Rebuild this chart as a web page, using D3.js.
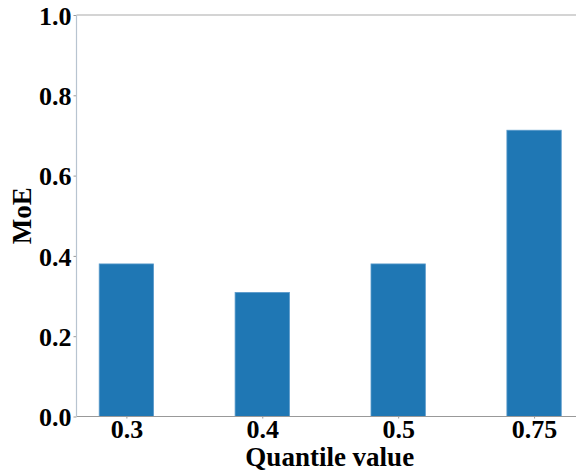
<!DOCTYPE html>
<html><head><meta charset="utf-8">
<script src="https://cdn.jsdelivr.net/npm/d3@7"></script>
<style>body{margin:0;background:#fff}svg{display:block}</style>
</head><body>
<script>
const categories = ["0.3", "0.4", "0.5", "0.75"];
const values = [0.38, 0.309, 0.38, 0.713];
const yTicks = [0, 0.2, 0.4, 0.6, 0.8, 1.0];

const W = 576, H = 472;
const L = 76.5, R = 583, T = 15, B = 416.5;
const svg = d3.select("body").append("svg").attr("width", W).attr("height", H);

const x = d3.scaleLinear().domain([-0.367, 3.36]).range([L, R]);
const y = d3.scaleLinear().domain([0, 1]).range([B, T]);
const bw = x(0.4) - x(0);

svg.selectAll("rect.bar").data(values).join("rect").attr("class","bar")
  .attr("x", (d,i) => x(i) - bw/2).attr("width", bw)
  .attr("y", d => y(d)).attr("height", d => y(0) - y(d))
  .attr("fill", "#1f77b4").attr("stroke", "#5a9acb").attr("stroke-width", 0.8);

const font = "'Liberation Serif','Times New Roman',serif";
const yAxis = d3.axisLeft(y).tickValues(yTicks).tickFormat(d3.format(".1f")).tickSize(3).tickPadding(2);
const gy = svg.append("g").attr("transform", `translate(${L},0)`).call(yAxis);
gy.select(".domain").remove();
gy.selectAll("line").attr("stroke", "#999");
gy.selectAll("text").attr("font-family", font).attr("font-weight", "bold").attr("font-size", 26).attr("fill", "#000").attr("dy", "0.35em");

const xAxis = d3.axisBottom(x).tickValues(d3.range(categories.length)).tickFormat(i => categories[i]).tickSize(2).tickPadding(1);
const gx = svg.append("g").attr("transform", `translate(0,${B})`).call(xAxis);
gx.select(".domain").remove();
gx.selectAll("line").attr("stroke", "#999");
gx.selectAll("text").attr("font-family", font).attr("font-weight", "bold").attr("font-size", 26).attr("fill", "#000").attr("dy", "0.72em");

// spines
svg.append("line").attr("x1", L).attr("x2", R).attr("y1", T).attr("y2", T).attr("stroke", "#aaa").attr("stroke-width", 1.2);
svg.append("line").attr("x1", L).attr("x2", R).attr("y1", B).attr("y2", B).attr("stroke", "#999").attr("stroke-width", 1.2);
svg.append("line").attr("x1", L).attr("x2", L).attr("y1", T).attr("y2", B).attr("stroke", "#b8c4d0").attr("stroke-width", 1.2);

svg.append("text").attr("x", (L+R)/2).attr("y", 466).attr("text-anchor", "middle")
  .attr("font-family", font).attr("font-weight", "bold").attr("font-size", 27).text("Quantile value");
svg.append("text").attr("transform", `translate(31,${(T+B)/2}) rotate(-90)`).attr("text-anchor", "middle")
  .attr("font-family", font).attr("font-weight", "bold").attr("font-size", 27).text("MoE");
</script>
</body></html>
